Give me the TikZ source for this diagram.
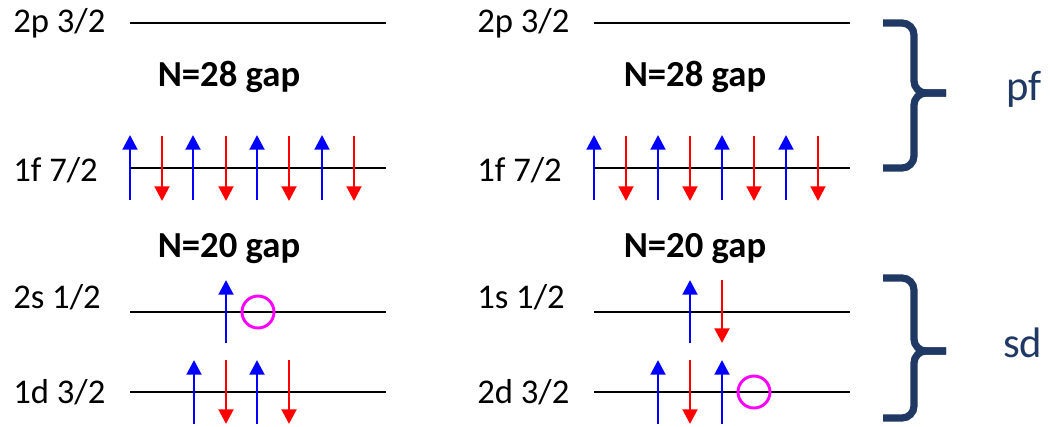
\documentclass[tikz,border=0pt]{standalone}
\usepackage{fontspec}
\setmainfont{Carlito}
\usetikzlibrary{arrows.meta}
\definecolor{navy}{HTML}{203864}
\definecolor{spinblue}{RGB}{0,0,255}
\definecolor{spinred}{RGB}{255,0,0}
\definecolor{holemag}{RGB}{255,0,255}
\begin{document}
\begin{tikzpicture}[x=0.75pt,y=-0.75pt,
  level/.style={line width=2.2pt},
  lbl/.style={anchor=base west,inner sep=0pt,font=\fontsize{26}{30}\selectfont},
  gaplbl/.style={anchor=base,inner sep=0pt,font=\bfseries\fontsize{27.5}{32}\selectfont},
  spinup/.style={draw=spinblue,line width=2.2pt,-{Triangle[length=11pt,width=11pt]}},
  spindown/.style={draw=spinred,line width=2.2pt,-{Triangle[length=11pt,width=11pt]}},
  hole/.style={draw=holemag,line width=2.2pt},
  brace/.style={draw=navy,line width=5.4pt,rounded corners=9pt},
  shell/.style={anchor=base west,inner sep=0pt,text=navy,font=\fontsize{32}{36}\selectfont}]
\useasboundingbox (0,0) rectangle (1051,426);
% ---------- left panel ----------
\node[lbl] (l2p) at (13,32) {2p 3/2};
\node[lbl] (l1f) at (13,181) {1f 7/2};
\node[lbl] (l2s) at (13,308) {2s 1/2};
\node[lbl] (l1d) at (13,403) {1d 3/2};
\node[gaplbl] (lg28) at (229,86) {N=28 gap};
\node[gaplbl] (lg20) at (229,257) {N=20 gap};
\draw[level] (130,23) -- (386,23);
\draw[level] (130,168) -- (386,168);
\draw[level] (130,312) -- (386,312);
\draw[level] (130,392) -- (386,392);
\foreach \x in {130,193,257,322} \draw[spinup] (\x,200) -- (\x,135);
\foreach \x in {162,226,289,354} \draw[spindown] (\x,136) -- (\x,201);
\draw[spinup] (226,343) -- (226,280);
\draw[hole] (258,312) circle (16);
\foreach \x in {194,257} \draw[spinup] (\x,424) -- (\x,360);
\foreach \x in {226,289} \draw[spindown] (\x,360) -- (\x,424);
% ---------- right panel ----------
\node[lbl] (r2p) at (477,32) {2p 3/2};
\node[lbl] (r1f) at (477,181) {1f 7/2};
\node[lbl] (r1s) at (477,308) {1s 1/2};
\node[lbl] (r2d) at (477,403) {2d 3/2};
\node[gaplbl] (rg28) at (695,86) {N=28 gap};
\node[gaplbl] (rg20) at (695,257) {N=20 gap};
\draw[level] (594,23) -- (850,23);
\draw[level] (594,168) -- (850,168);
\draw[level] (594,312) -- (850,312);
\draw[level] (594,392) -- (850,392);
\foreach \x in {594,658,722,786} \draw[spinup] (\x,200) -- (\x,135);
\foreach \x in {626,690,754,818} \draw[spindown] (\x,136) -- (\x,201);
\draw[spinup] (690,343) -- (690,280);
\draw[spindown] (722,280) -- (722,343);
\foreach \x in {658,722} \draw[spinup] (\x,424) -- (\x,360);
\draw[spindown] (690,360) -- (690,424);
\draw[hole] (754,392) circle (16);
% ---------- braces ----------
\draw[brace] (883,23) -- (914,23) -- (914,93) -- (946,93);
\draw[brace] (946,93) -- (914,93) -- (914,168) -- (883,168);
\draw[brace] (883,278) -- (914,278) -- (914,351) -- (946,351);
\draw[brace] (946,351) -- (914,351) -- (914,418) -- (883,418);
\node[shell] (pf) at (1006,100) {pf};
\node[shell] (sd) at (1003,357) {sd};
\end{tikzpicture}
\end{document}
